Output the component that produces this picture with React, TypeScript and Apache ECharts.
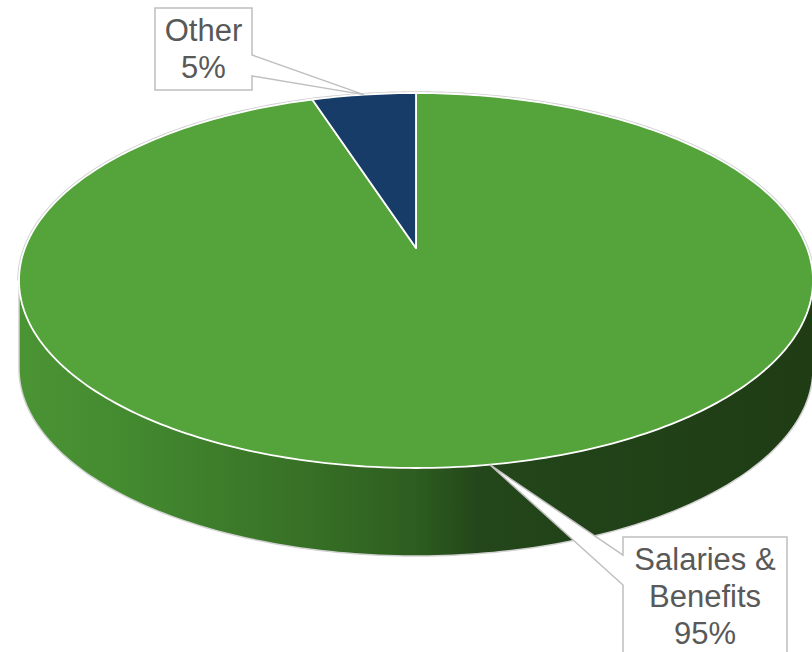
import React, { useEffect, useRef } from 'react';
import * as echarts from 'echarts';

// ---- data ----
const categories: string[] = ['Salaries & Benefits', 'Other'];
const values: number[] = [95, 5];
const sliceColors: string[] = ['#54a33b', '#163c67'];

// ---- 3D pie geometry (layout) ----
const CX = 416;
const APEX_Y = 248;
const RX = 391;
const K = 0.1733; // perspective factor
const B = 138.88; // vertical radius term
const DEPTH = 88;
const TW = Math.acos(-K); // angle of widest silhouette point

const calloutLayout = [
  { x: 623, y: 537, w: 164, h: 124, side: 'left', w0: 555, w1: 585 },
  { x: 155, y: 8, w: 97, h: 82, side: 'right', w0: 55, w1: 76 },
];

const total = values.reduce((a, b) => a + b, 0);

function sliceAngles(i: number): [number, number] {
  let s = 0;
  for (let j = 0; j < i; j++) s += values[j];
  return [(2 * Math.PI * s) / total, (2 * Math.PI * (s + values[i])) / total];
}

function proj(t: number): [number, number] {
  const s = Math.sin(t);
  const c = Math.cos(t);
  const d = 1 + K * c;
  return [CX + (RX * s) / d, (APEX_Y - B * c) / d];
}

function arcPts(a0: number, a1: number, dy = 0): number[][] {
  const n = Math.max(2, Math.ceil((a1 - a0) / (Math.PI / 180)));
  const pts: number[][] = [];
  for (let k = 0; k <= n; k++) {
    const t = a0 + ((a1 - a0) * k) / n;
    const p = proj(t);
    pts.push([p[0], p[1] + dy]);
  }
  return pts;
}

function wrap(name: string, maxChars = 10): string {
  const words = name.split(' ');
  const lines: string[] = [];
  let cur = '';
  for (const w of words) {
    const next = cur ? cur + ' ' + w : w;
    if (next.length <= maxChars || !cur) cur = next;
    else {
      lines.push(cur);
      cur = w;
    }
  }
  if (cur) lines.push(cur);
  return lines.join('\n');
}

const sideGradient = {
  type: 'linear',
  x: 18,
  y: 0,
  x2: 813,
  y2: 0,
  global: true,
  colorStops: [
    { offset: 0, color: '#4b9434' },
    { offset: 0.13, color: '#448b30' },
    { offset: 0.38, color: '#366e25' },
    { offset: 0.5, color: '#2d5d20' },
    { offset: 0.58, color: '#23461a' },
    { offset: 1, color: '#1f3c15' },
  ],
};

export default function App() {
  const ref = useRef<HTMLDivElement>(null);
  useEffect(() => {
    if (!ref.current) return;
    const chart = echarts.init(ref.current, null, { renderer: 'svg' });
    const data = values.map((v, i) => ({ value: [v, i], name: categories[i] }));

    const sideSeries = {
      type: 'custom',
      coordinateSystem: 'none',
      silent: true,
      z: 1,
      data,
      renderItem: (params: any) => {
        const i = params.dataIndex;
        const [a0, a1] = sliceAngles(i);
        const lo = Math.max(a0, TW);
        const hi = Math.min(a1, 2 * Math.PI - TW);
        if (hi <= lo) return { type: 'group', children: [] };
        const top = arcPts(lo, hi);
        const bot = arcPts(lo, hi, DEPTH);
        const outline = [top[0], ...bot, top[top.length - 1]];
        return {
          type: 'group',
          children: [
            {
              type: 'polygon',
              shape: { points: top.concat(bot.slice().reverse()) },
              style: { fill: sideGradient, stroke: null },
            },
            {
              type: 'polyline',
              shape: { points: outline },
              style: { fill: null, stroke: '#d2d2d2', lineWidth: 1.5 },
            },
          ],
        };
      },
    };

    const topSeries = {
      type: 'custom',
      coordinateSystem: 'none',
      silent: true,
      z: 2,
      data,
      renderItem: (params: any) => {
        const i = params.dataIndex;
        const [a0, a1] = sliceAngles(i);
        const children: any[] = [];
        // gray outer outline on the back part
        const backRanges: [number, number][] = [
          [0, TW],
          [2 * Math.PI - TW, 2 * Math.PI],
        ];
        for (const [r0, r1] of backRanges) {
          const lo = Math.max(a0, r0);
          const hi = Math.min(a1, r1);
          if (hi > lo) {
            children.push({
              type: 'polyline',
              shape: { points: arcPts(lo, hi) },
              style: { fill: null, stroke: '#cfcfcf', lineWidth: 3.5 },
            });
          }
        }
        children.push({
          type: 'polygon',
          shape: { points: [[CX, APEX_Y], ...arcPts(a0, a1)] },
          style: {
            fill: sliceColors[i],
            stroke: '#ffffff',
            lineWidth: 1.8,
            lineJoin: 'round',
          },
        });
        return { type: 'group', children };
      },
    };

    const labelSeries = {
      type: 'custom',
      coordinateSystem: 'none',
      silent: true,
      z: 3,
      data,
      renderItem: (params: any, api: any) => {
        const i = params.dataIndex;
        const v = api.value(0);
        const [a0, a1] = sliceAngles(i);
        const tip = proj((a0 + a1) / 2);
        const bx = calloutLayout[i];
        let pts: number[][];
        if (bx.side === 'left') {
          pts = [
            [bx.x, bx.y],
            [bx.x + bx.w, bx.y],
            [bx.x + bx.w, bx.y + bx.h],
            [bx.x, bx.y + bx.h],
            [bx.x, bx.w1],
            [tip[0], tip[1]],
            [bx.x, bx.w0],
          ];
        } else {
          pts = [
            [bx.x, bx.y],
            [bx.x + bx.w, bx.y],
            [bx.x + bx.w, bx.w0],
            [tip[0], tip[1]],
            [bx.x + bx.w, bx.w1],
            [bx.x + bx.w, bx.y + bx.h],
            [bx.x, bx.y + bx.h],
          ];
        }
        const pct = Math.round((v / total) * 100) + '%';
        return {
          type: 'group',
          children: [
            {
              type: 'polygon',
              shape: { points: pts },
              style: { fill: '#ffffff', stroke: '#bfbfbf', lineWidth: 1.5 },
            },
            {
              type: 'text',
              x: bx.x + bx.w / 2,
              y: bx.y + 4,
              style: {
                text: wrap(categories[i]) + '\n' + pct,
                align: 'center',
                verticalAlign: 'top',
                fontSize: 31,
                lineHeight: 37,
                fontFamily: '"Liberation Sans", Arial, sans-serif',
                fill: '#595959',
              },
            },
          ],
        };
      },
    };

    chart.setOption({
      animation: false,
      series: [sideSeries, topSeries, labelSeries],
    });
    return () => chart.dispose();
  }, []);
  return (
    <div
      ref={ref}
      style={{ position: 'absolute', left: 0, top: 0, width: 812, height: 652, background: '#fff' }}
    />
  );
}
